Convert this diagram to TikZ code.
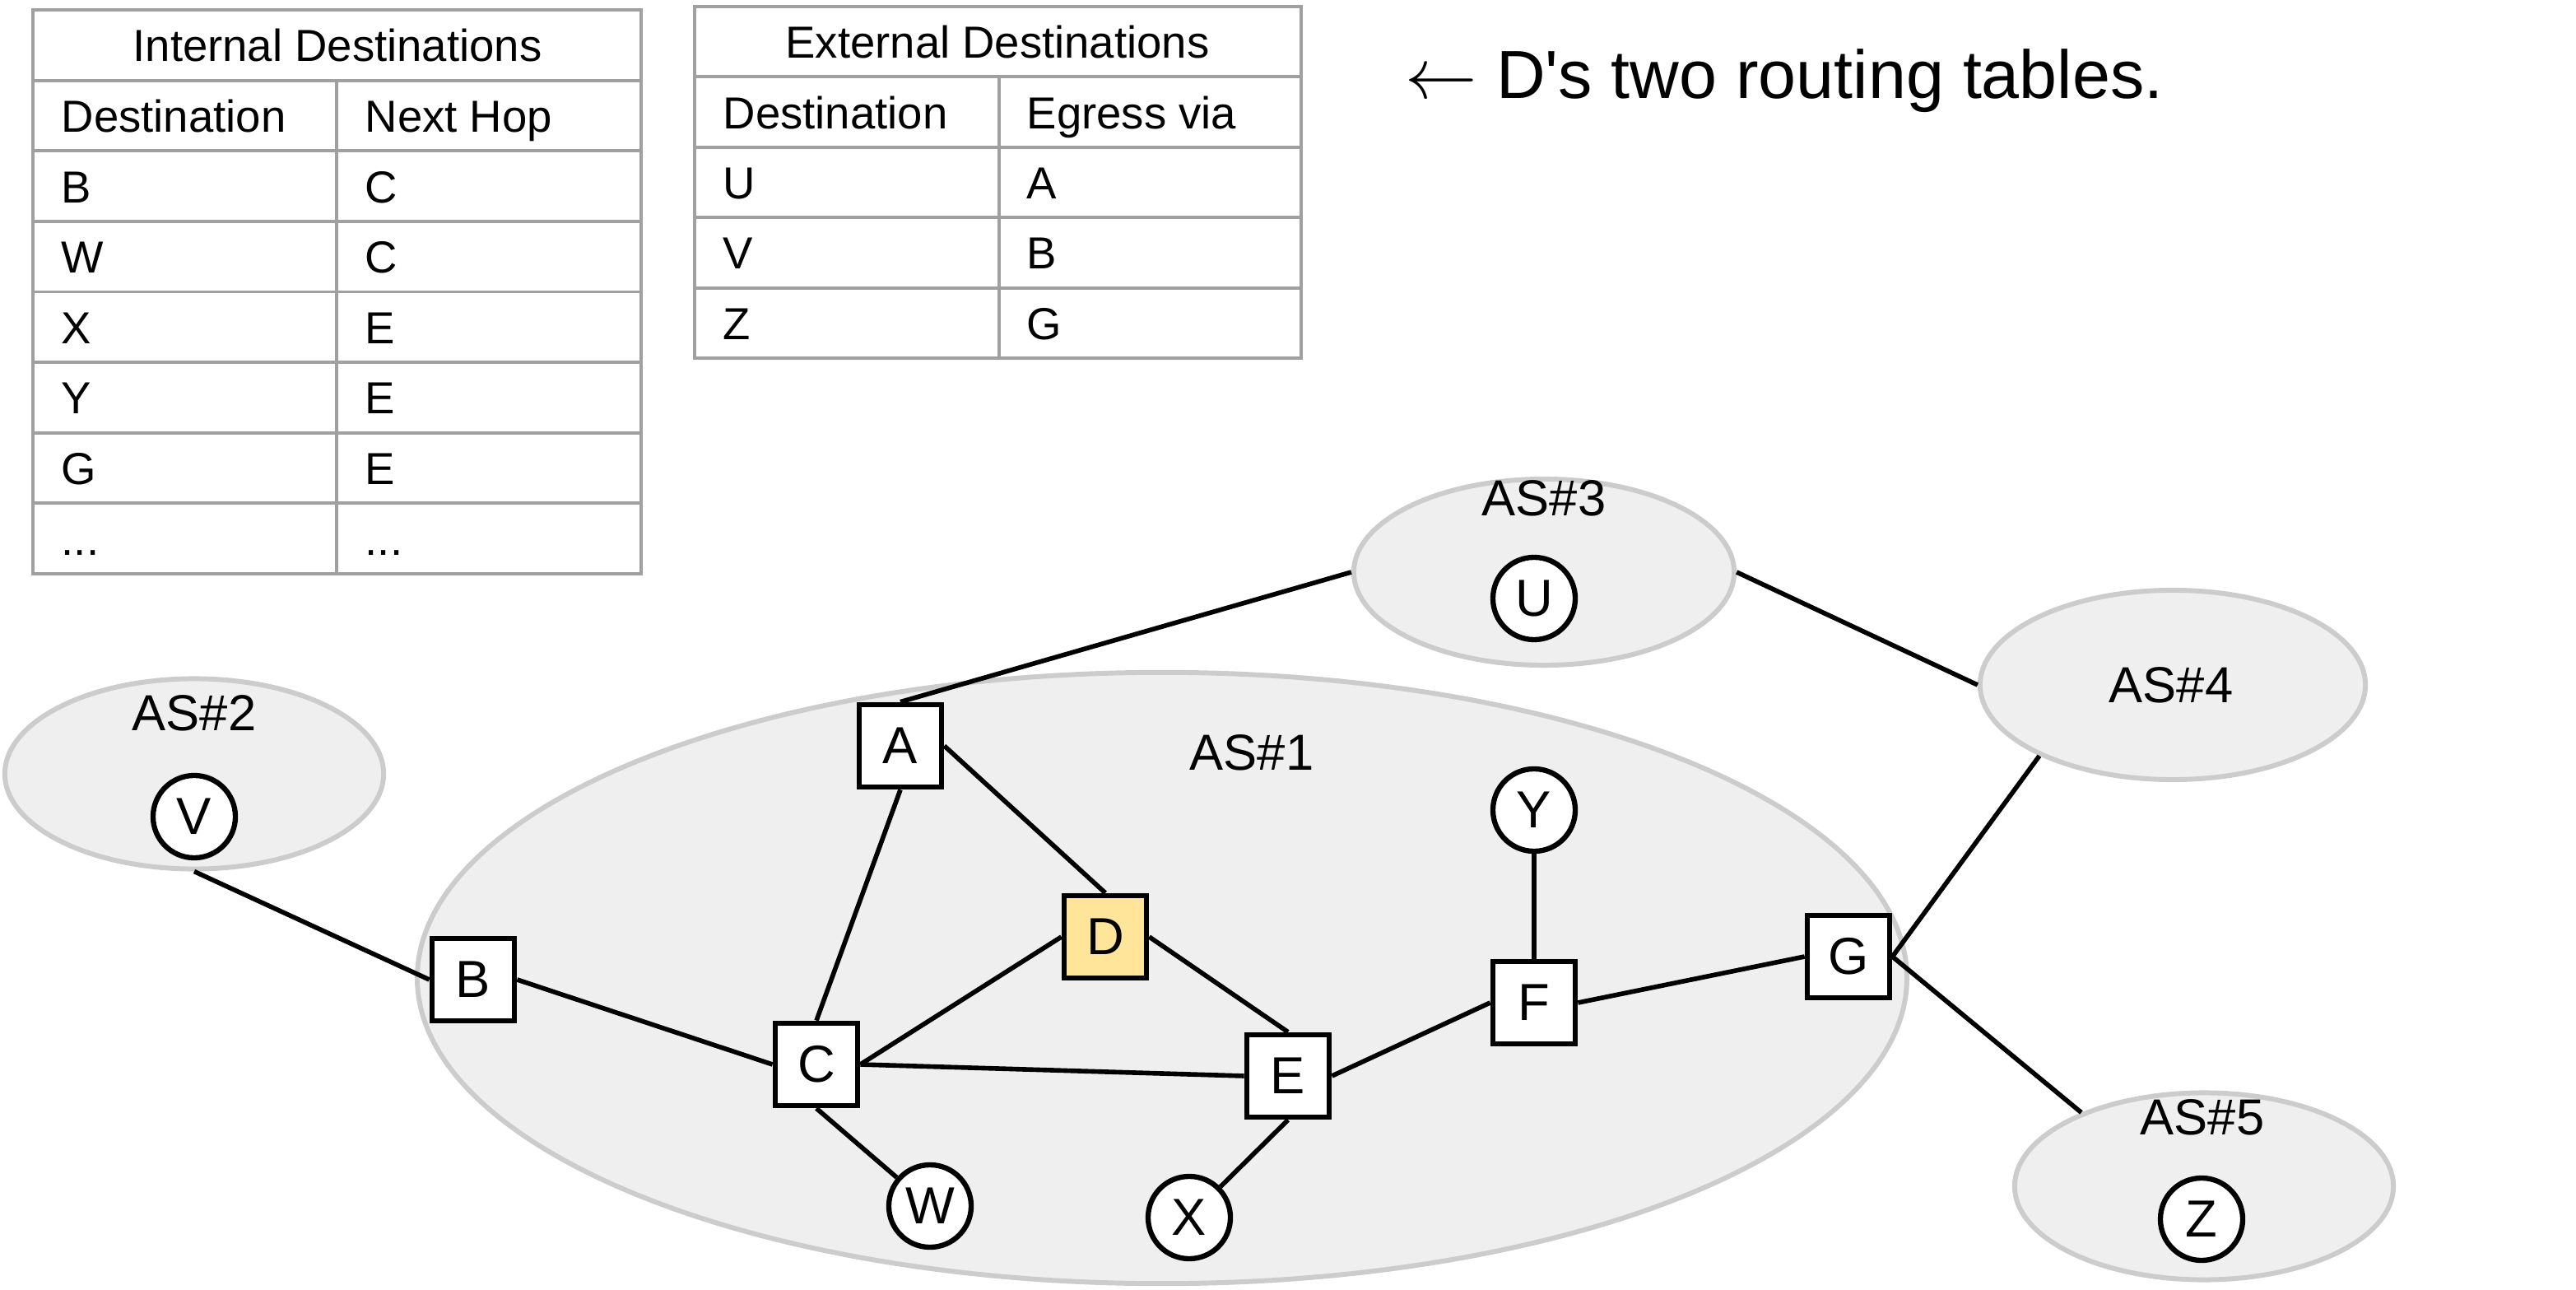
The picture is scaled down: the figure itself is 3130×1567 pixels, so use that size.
\documentclass[tikz,border=0pt]{standalone}
\usepackage{fontspec}
\setmainfont{Liberation Sans}
\usetikzlibrary{shapes.geometric}
\definecolor{asfill}{HTML}{EFEFEF}
\definecolor{asborder}{HTML}{CCCCCC}
\definecolor{tblgray}{HTML}{A0A0A0}
\definecolor{dfill}{HTML}{FFE599}
\tikzset{
  tblline/.style={draw=tblgray, line width=1.1pt},
  ttxt/.style={font=\fontsize{15.5}{18}\selectfont, anchor=base west, inner sep=0pt},
  thead/.style={font=\fontsize{15.5}{18}\selectfont, anchor=base, inner sep=0pt},
  router/.style={rectangle, draw=black, line width=1.9pt, fill=white, minimum size=1.0cm, inner sep=0pt, font=\fontsize{18}{21}\selectfont},
  host/.style={circle, draw=black, line width=1.8pt, fill=white, minimum size=1.0cm, inner sep=0pt, font=\fontsize{18}{21}\selectfont},
  asell/.style={ellipse, draw=asborder, fill=asfill, line width=1.7pt, inner sep=0pt},
  aslabel/.style={font=\fontsize{17.5}{20}\selectfont, inner sep=0pt},
  link/.style={draw=black, line width=1.6pt},
}
\begin{document}
\begin{tikzpicture}[x=0.01cm, y=-0.01cm]
\useasboundingbox (0,0) rectangle (3130,1567);

% ---------- Internal table ----------
\draw[tblline] (40,12) rectangle (779,697);
\foreach \i in {1,...,7} \draw[tblline] (40,{12+\i*85.625}) -- (779,{12+\i*85.625});
\draw[tblline] (409,{12+85.625}) -- (409,697);
\node[thead] (ihead) at (410,{12+0.5*85.625+20}) {Internal Destinations};
\node[ttxt] (ic1) at (74,{12+1.5*85.625+20}) {Destination};
\node[ttxt] (ic2) at (443,{12+1.5*85.625+20}) {Next Hop};
\node[ttxt] (ib) at (74,{12+2.5*85.625+20}) {B};
\node[ttxt] (ibn) at (443,{12+2.5*85.625+20}) {C};
\node[ttxt] (iw) at (74,{12+3.5*85.625+20}) {W};
\node[ttxt] (iwn) at (443,{12+3.5*85.625+20}) {C};
\node[ttxt] (ix) at (74,{12+4.5*85.625+20}) {X};
\node[ttxt] (ixn) at (443,{12+4.5*85.625+20}) {E};
\node[ttxt] (iy) at (74,{12+5.5*85.625+20}) {Y};
\node[ttxt] (iyn) at (443,{12+5.5*85.625+20}) {E};
\node[ttxt] (ig) at (74,{12+6.5*85.625+20}) {G};
\node[ttxt] (ign) at (443,{12+6.5*85.625+20}) {E};
\node[ttxt] (id1) at (74,{12+7.5*85.625+20}) {...};
\node[ttxt] (id2) at (443,{12+7.5*85.625+20}) {...};

% ---------- External table ----------
\draw[tblline] (844,8) rectangle (1581,435);
\foreach \i in {1,...,4} \draw[tblline] (844,{8+\i*85.4}) -- (1581,{8+\i*85.4});
\draw[tblline] (1214,{8+85.4}) -- (1214,435);
\node[thead] (ehead) at (1212,{8+0.5*85.4+20}) {External Destinations};
\node[ttxt] (ec1) at (878,{8+1.5*85.4+20}) {Destination};
\node[ttxt] (ec2) at (1247,{8+1.5*85.4+20}) {Egress via};
\node[ttxt] (eu) at (878,{8+2.5*85.4+20}) {U};
\node[ttxt] (eun) at (1247,{8+2.5*85.4+20}) {A};
\node[ttxt] (ev) at (878,{8+3.5*85.4+20}) {V};
\node[ttxt] (evn) at (1247,{8+3.5*85.4+20}) {B};
\node[ttxt] (ez) at (878,{8+4.5*85.4+20}) {Z};
\node[ttxt] (ezn) at (1247,{8+4.5*85.4+20}) {G};

% ---------- Caption ----------
\node[font=\fontsize{23.5}{27}\selectfont, anchor=base west, inner sep=0pt] (caption) at (1707,120) {$\leftarrow$ D\textquotesingle s two routing tables.};

% ---------- AS ellipses ----------
\node[asell, minimum width=18.09cm, minimum height=7.42cm] (as1) at (1412,1188) {};
\node[asell, minimum width=4.6cm, minimum height=2.31cm] (as2) at (236,940) {};
\node[asell, minimum width=4.62cm, minimum height=2.26cm] (as3) at (1876,695) {};
\node[asell, minimum width=4.68cm, minimum height=2.30cm] (as4) at (2640,832) {};
\node[asell, minimum width=4.6cm, minimum height=2.27cm] (as5) at (2678,1441) {};

\node[aslabel] (l1) at (1521,914) {AS\#1};
\node[aslabel] (l2) at (236,866) {AS\#2};
\node[aslabel] (l3) at (1876,605) {AS\#3};
\node[aslabel] (l4) at (2638,832) {AS\#4};
\node[aslabel] (l5) at (2676,1357) {AS\#5};

% ---------- Routers ----------
\node[router] (A) at (1094,906) {A};
\node[router] (B) at (575,1190) {B};
\node[router] (C) at (992,1293) {C};
\node[router, fill=dfill] (D) at (1343,1138) {D};
\node[router] (E) at (1565,1307) {E};
\node[router] (F) at (1864,1218) {F};
\node[router] (G) at (2246,1162) {G};

% ---------- Hosts ----------
\node[host] (Y) at (1864,984) {Y};
\node[host] (W) at (1130,1465) {W};
\node[host] (X) at (1445,1479) {X};
\node[host] (V) at (236,992) {V};
\node[host] (U) at (1864,727) {U};
\node[host] (Z) at (2675,1481) {Z};

% ---------- Links ----------
\draw[link] (as2.south) -- (B.west);
\draw[link] (A.north) -- (as3.west);
\draw[link] (as3.east) -- (as4.west);
\draw[link] (as4.208) -- (G.east);
\draw[link] (as5.149) -- (G.east);
\draw[link] (B.east) -- (C.west);
\draw[link] (A.south) -- (C.north);
\draw[link] (A.east) -- (D.north);
\draw[link] (C.east) -- (D.west);
\draw[link] (C.east) -- (E.west);
\draw[link] (D.east) -- (E.north);
\draw[link] (C.south) -- (W);
\draw[link] (E.south) -- (X);
\draw[link] (E.east) -- (F.west);
\draw[link] (F.north) -- (Y);
\draw[link] (F.east) -- (G.west);
\end{tikzpicture}
\end{document}
